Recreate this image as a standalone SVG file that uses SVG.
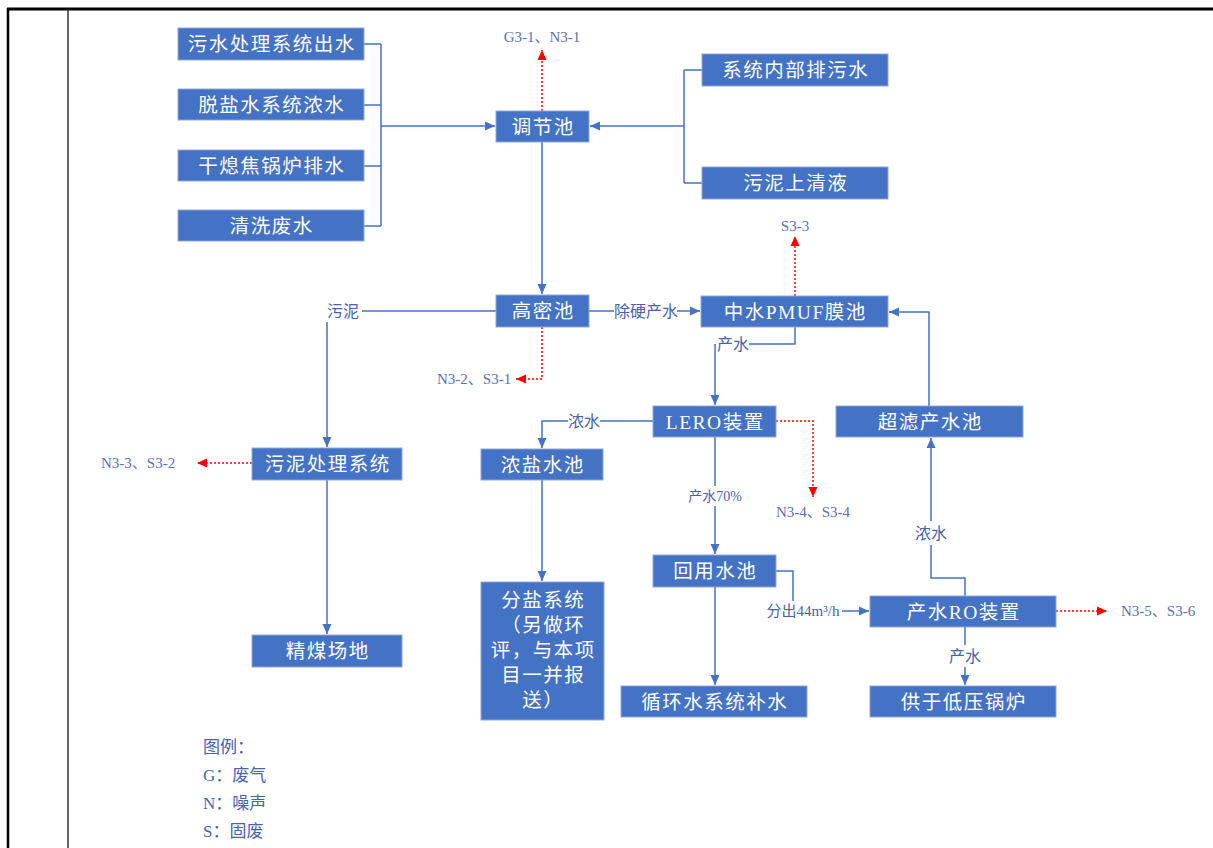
<svg xmlns="http://www.w3.org/2000/svg" width="1213" height="848" viewBox="0 0 1213 848">
<style>
.box{fill:#4472C4;stroke:#8EA8D8;stroke-width:1}
.bt{fill:#fff;font-family:"Liberation Serif","Noto Sans CJK SC",sans-serif;font-size:19.5px;letter-spacing:1.5px;text-anchor:middle;dominant-baseline:central}
.ln{fill:none;stroke:#4472C4;stroke-width:1.5}
.rd{fill:none;stroke:#FF0000;stroke-width:1.5;stroke-dasharray:2 2}
.lb{fill:#4A62AE;font-family:"Liberation Serif","Noto Sans CJK SC",sans-serif;font-size:16px;dominant-baseline:central}
.rl{fill:#5A70B8;font-family:"Liberation Serif","Noto Sans CJK SC",serif;font-size:15px;dominant-baseline:central}
.lg{fill:#4A62AE;font-family:"Liberation Serif","Noto Sans CJK SC",serif;font-size:17px;dominant-baseline:central}
</style>
<defs>
<marker id="ab" markerUnits="userSpaceOnUse" markerWidth="10" markerHeight="10" refX="10" refY="5" orient="auto"><path d="M0,0.5 L10,5 L0,9.5 z" fill="#4472C4"/></marker>
<marker id="ar" markerUnits="userSpaceOnUse" markerWidth="10" markerHeight="10" refX="10" refY="5" orient="auto"><path d="M0,0.5 L10,5 L0,9.5 z" fill="#FF0000"/></marker>
</defs>
<g id="frame">
<line x1="7" y1="9" x2="1213" y2="9" stroke="#000" stroke-width="3"/>
<line x1="8" y1="8" x2="8" y2="848" stroke="#000" stroke-width="2.5"/>
<line x1="68" y1="9" x2="68" y2="848" stroke="#333" stroke-width="1.5"/>
</g>
<g id="connectors">
<path class="ln" d="M364,44 H381 M364,105 H381 M364,166 H381 M364,226 H381 M381,44 V226"/>
<path class="ln" d="M381,126 H495" marker-end="url(#ab)"/>
<path class="ln" d="M702,70 H684 M702,183 H684 M684,70 V183"/>
<path class="ln" d="M684,126 H590" marker-end="url(#ab)"/>
<path class="ln" d="M542,142 V294" marker-end="url(#ab)"/>
<path class="ln" d="M496,311 H362"/>
<path class="ln" d="M327,322 V447" marker-end="url(#ab)"/>
<path class="ln" d="M589,311 H614"/>
<path class="ln" d="M677,311 H700" marker-end="url(#ab)"/>
<path class="ln" d="M795,327 V344 H749"/>
<path class="ln" d="M715,344 V405" marker-end="url(#ab)"/>
<path class="ln" d="M653,421 H600"/>
<path class="ln" d="M568,421 H542 V448" marker-end="url(#ab)"/>
<path class="ln" d="M929,406 V312 H889" marker-end="url(#ab)"/>
<path class="ln" d="M327,480 V634" marker-end="url(#ab)"/>
<path class="ln" d="M542,480 V581" marker-end="url(#ab)"/>
<path class="ln" d="M715,437 V486"/>
<path class="ln" d="M715,506 V554" marker-end="url(#ab)"/>
<path class="ln" d="M715,587 V685" marker-end="url(#ab)"/>
<path class="ln" d="M776,571 H793 V601"/>
<path class="ln" d="M842,611 H869" marker-end="url(#ab)"/>
<path class="ln" d="M965,596 V578 H931 V545"/>
<path class="ln" d="M931,521 V438" marker-end="url(#ab)"/>
<path class="ln" d="M965,627 V645"/>
<path class="ln" d="M965,667 V685" marker-end="url(#ab)"/>
<path class="rd" d="M542,111 V50" marker-end="url(#ar)"/>
<path class="rd" d="M542,327 V379 H516" marker-end="url(#ar)"/>
<path class="rd" d="M795,296 V236" marker-end="url(#ar)"/>
<path class="rd" d="M776,421 H813 V497" marker-end="url(#ar)"/>
<path class="rd" d="M252,463 H197" marker-end="url(#ar)"/>
<path class="rd" d="M1056,611 H1107" marker-end="url(#ar)"/>
<text class="lb" x="343" y="311" text-anchor="middle">污泥</text>
<text class="lb" x="646" y="311" text-anchor="middle">除硬产水</text>
<text class="lb" x="733" y="344" text-anchor="middle">产水</text>
<text class="lb" x="584" y="421" text-anchor="middle">浓水</text>
<text class="lb" x="715" y="496" text-anchor="middle" style="font-size:14px">产水70%</text>
<text class="lb" x="803" y="611" text-anchor="middle" style="font-size:15px">分出44m³/h</text>
<text class="lb" x="931" y="533" text-anchor="middle">浓水</text>
<text class="lb" x="965" y="656" text-anchor="middle">产水</text>
<text class="rl" x="542" y="37" text-anchor="middle">G3-1、N3-1</text>
<text class="rl" x="437" y="379">N3-2、S3-1</text>
<text class="rl" x="795" y="226" text-anchor="middle">S3-3</text>
<text class="rl" x="813" y="512" text-anchor="middle">N3-4、S3-4</text>
<text class="rl" x="101" y="463">N3-3、S3-2</text>
<text class="rl" x="1121" y="611">N3-5、S3-6</text>
</g>
<g id="n1"><rect class="box" x="178" y="28" width="186" height="32"/><text class="bt" x="271.75" y="44">污水处理系统出水</text></g>
<g id="n2"><rect class="box" x="178" y="89" width="186" height="31"/><text class="bt" x="271.75" y="105">脱盐水系统浓水</text></g>
<g id="n3"><rect class="box" x="178" y="150" width="186" height="31"/><text class="bt" x="271.75" y="166">干熄焦锅炉排水</text></g>
<g id="n4"><rect class="box" x="178" y="210" width="186" height="31"/><text class="bt" x="271.75" y="226">清洗废水</text></g>
<g id="n5"><rect class="box" x="496" y="111" width="93" height="31"/><text class="bt" x="543.25" y="127">调节池</text></g>
<g id="n6"><rect class="box" x="702" y="54" width="186" height="32"/><text class="bt" x="795.75" y="70">系统内部排污水</text></g>
<g id="n7"><rect class="box" x="702" y="167" width="186" height="32"/><text class="bt" x="795.75" y="183">污泥上清液</text></g>
<g id="n8"><rect class="box" x="496" y="295" width="93" height="32"/><text class="bt" x="543.25" y="311">高密池</text></g>
<g id="n9"><rect class="box" x="701" y="296" width="187" height="31"/><text class="bt" x="795.25" y="312">中水PMUF膜池</text></g>
<g id="n10"><rect class="box" x="653" y="406" width="123" height="31"/><text class="bt" x="715.25" y="422">LERO装置</text></g>
<g id="n11"><rect class="box" x="836" y="406" width="187" height="31"/><text class="bt" x="930.25" y="422">超滤产水池</text></g>
<g id="n12"><rect class="box" x="252" y="448" width="150" height="32"/><text class="bt" x="327.75" y="464">污泥处理系统</text></g>
<g id="n13"><rect class="box" x="481" y="449" width="122" height="31"/><text class="bt" x="542.75" y="465">浓盐水池</text></g>
<g id="n14"><rect class="box" x="252" y="635" width="150" height="32"/><text class="bt" x="327.75" y="651">精煤场地</text></g>
<g id="n15"><rect class="box" x="481" y="582" width="123" height="138"/>
<text class="bt" x="543.25" y="600">分盐系统</text>
<text class="bt" x="543.25" y="625">（另做环</text>
<text class="bt" x="543.25" y="650">评，与本项</text>
<text class="bt" x="543.25" y="675">目一并报</text>
<text class="bt" x="543.25" y="700">送）</text></g>
<g id="n16"><rect class="box" x="653" y="555" width="123" height="32"/><text class="bt" x="715.25" y="571">回用水池</text></g>
<g id="n17"><rect class="box" x="870" y="596" width="186" height="31"/><text class="bt" x="963.75" y="612">产水RO装置</text></g>
<g id="n18"><rect class="box" x="621" y="686" width="186" height="31"/><text class="bt" x="714.75" y="702">循环水系统补水</text></g>
<g id="n19"><rect class="box" x="870" y="686" width="186" height="31"/><text class="bt" x="963.75" y="702">供于低压锅炉</text></g>
<g id="legend">
<text class="lg" x="203" y="747">图例：</text>
<text class="lg" x="203" y="775">G：废气</text>
<text class="lg" x="203" y="803">N：噪声</text>
<text class="lg" x="203" y="831">S：固废</text>
</g>
</svg>
